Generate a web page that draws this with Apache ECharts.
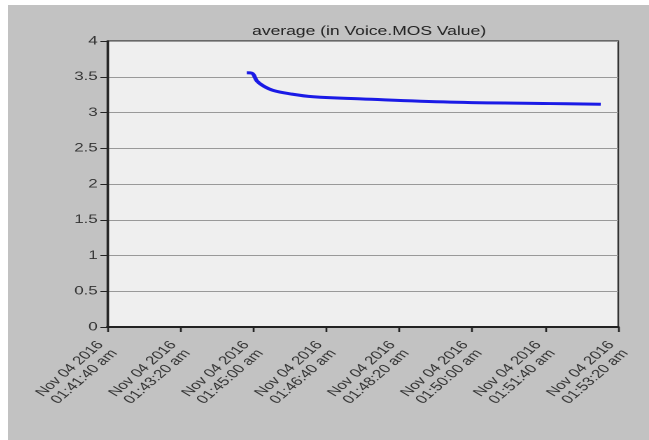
<!DOCTYPE html>
<html>
<head>
<meta charset="utf-8">
<script src="https://cdn.jsdelivr.net/npm/echarts@6/dist/echarts.min.js"></script>
<style>
  html, body { margin: 0; padding: 0; background: #ffffff; overflow: hidden; }
  /* the source screenshot is stretched sideways, so draw narrow and widen */
  #frame { position: absolute; left: 8px; top: 5px; width: 641px; height: 435px; background: #c2c2c2; overflow: hidden; }
  #chart { position: absolute; left: 0; top: 0; width: 458px; height: 435px; transform: scaleX(1.3996); transform-origin: 0 0; }
</style>
</head>
<body>
<div id="frame"><div id="chart"></div></div>
<script>
// time of day (UTC, Nov 04 2016) and MOS average
const times = [
  '01:44:51', '01:44:58', '01:45:05', '01:45:14', '01:45:27', '01:45:51',
  '01:46:22', '01:47:27', '01:49:30', '01:51:47', '01:52:56'
];
const mosValues = [3.556, 3.55, 3.44, 3.37, 3.31, 3.26, 3.22, 3.19, 3.145, 3.125, 3.115];

const dayStart = Date.UTC(2016, 10, 4);
const axisMin = dayStart + (1 * 3600 + 41 * 60 + 40) * 1000; // 01:41:40
const axisMax = dayStart + (1 * 3600 + 53 * 60 + 20) * 1000; // 01:53:20
const stepMs = 100 * 1000;

function toMs(t) {
  const [h, m, s] = t.split(':').map(Number);
  return dayStart + (h * 3600 + m * 60 + s) * 1000;
}

function pad(n) {
  return String(n).padStart(2, '0');
}

function formatTick(v) {
  const d = new Date(v);
  const h = d.getUTCHours();
  const ampm = h < 12 ? 'am' : 'pm';
  const h12 = h % 12 === 0 ? 12 : h % 12;
  return 'Nov 04 2016\n' + pad(h12) + ':' + pad(d.getUTCMinutes()) + ':' + pad(d.getUTCSeconds()) + ' ' + ampm;
}

const chart = echarts.init(document.getElementById('chart'), null, { renderer: 'canvas', devicePixelRatio: 2 });

chart.setOption({
  backgroundColor: 'transparent',
  animation: false,
  title: {
    text: 'average (in Voice.MOS Value)',
    left: 253,
    top: 15,
    textAlign: 'center',
    textStyle: { fontFamily: 'Liberation Sans', fontSize: 12.5, fontWeight: 'normal', color: '#222' }
  },
  grid: {
    left: 71,
    top: 36,
    right: 22,
    bottom: 113,
    show: true,
    backgroundColor: '#efefef',
    borderColor: '#333',
    borderWidth: 1.2
  },
  xAxis: {
    type: 'value',
    min: axisMin,
    max: axisMax,
    interval: stepMs,
    axisLine: { show: true, lineStyle: { color: '#222', width: 2 } },
    axisTick: { show: true, length: 5, lineStyle: { color: '#222', width: 1.3 } },
    splitLine: { show: false },
    axisLabel: {
      rotate: 50,
      margin: 20,
      fontFamily: 'Liberation Sans',
      fontSize: 12,
      color: '#333',
      lineHeight: 13,
      formatter: formatTick
    }
  },
  yAxis: {
    type: 'value',
    min: 0,
    max: 4,
    interval: 0.5,
    axisLine: { show: true, lineStyle: { color: '#222', width: 1.4 } },
    axisTick: { show: true, length: 5, lineStyle: { color: '#222', width: 1 } },
    splitLine: { show: true, lineStyle: { color: '#999', width: 1 } },
    axisLabel: {
      margin: 7,
      fontFamily: 'Liberation Sans',
      fontSize: 12,
      color: '#333'
    }
  },
  series: [{
    type: 'line',
    data: times.map((t, i) => [toMs(t), mosValues[i]]),
    showSymbol: false,
    smooth: 0.4,
    lineStyle: { color: '#1a1ae6', width: 3 }
  }]
});
</script>
</body>
</html>
